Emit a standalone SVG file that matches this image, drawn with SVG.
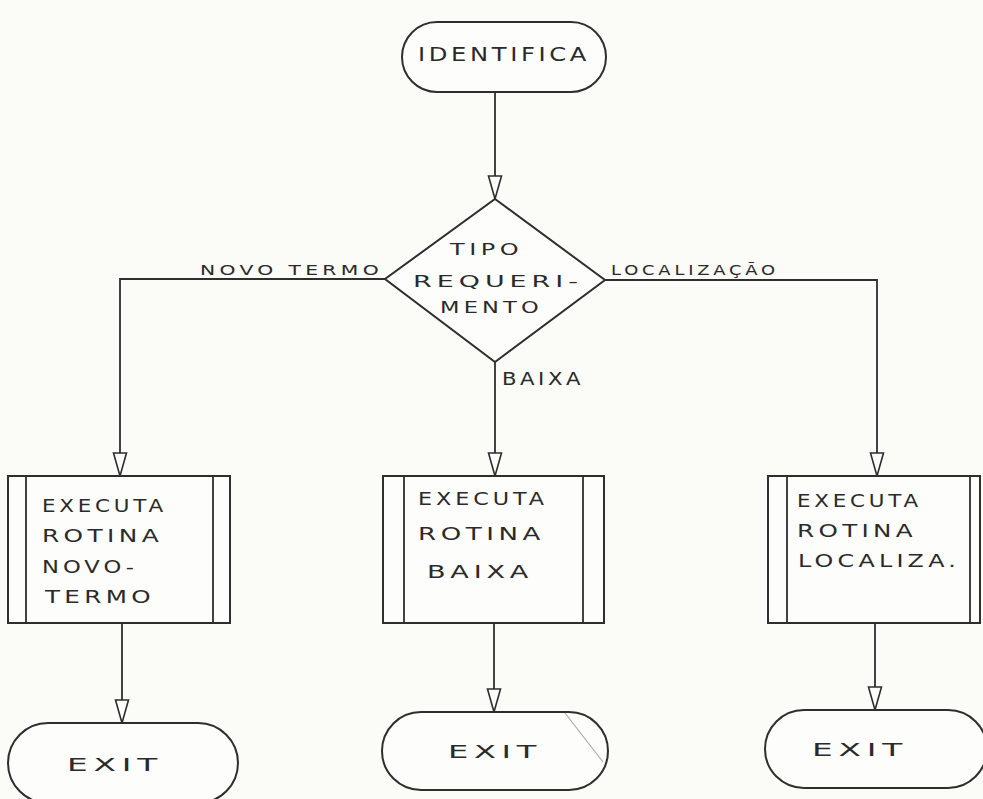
<svg xmlns="http://www.w3.org/2000/svg" width="983" height="799" viewBox="0 0 983 799">
<style>
.s{fill:#fdfdfb;stroke:#2e2e2e;stroke-width:2}
.l{fill:none;stroke:#2e2e2e;stroke-width:1.8}
.t{font-family:"DejaVu Sans","Liberation Sans",Arial,sans-serif;fill:#2a2a2a;letter-spacing:3px}
.big{font-size:20px}
.mid{font-size:17px}
.dia{font-size:16px}
.sm{font-size:14px}
.lab{font-size:18px}
</style>
<defs>
<marker id="arr" viewBox="-1 -9 26 18" markerWidth="26" markerHeight="18" refX="23" refY="0" orient="auto" markerUnits="userSpaceOnUse">
<path d="M0,-6.5 L23,0 L0,6.5 Z" fill="#fdfdfb" stroke="#2e2e2e" stroke-width="1.6"/>
</marker>
</defs>
<rect width="983" height="799" fill="#fbfbf8"/>
<g id="connectors">
<line class="l" x1="495" y1="92" x2="495" y2="199" marker-end="url(#arr)"/>
<polyline class="l" points="385,279 120,279 120,476" marker-end="url(#arr)"/>
<polyline class="l" points="605,280 877,280 877,476" marker-end="url(#arr)"/>
<line class="l" x1="495" y1="362" x2="495" y2="476" marker-end="url(#arr)"/>
<line class="l" x1="122" y1="623" x2="122" y2="723" marker-end="url(#arr)"/>
<line class="l" x1="494" y1="623" x2="494" y2="712" marker-end="url(#arr)"/>
<line class="l" x1="875" y1="623" x2="875" y2="710" marker-end="url(#arr)"/>
<text class="t sm" x="200" y="275" textLength="183" lengthAdjust="spacingAndGlyphs">NOVO TERMO</text>
<text class="t sm" x="611" y="275" textLength="168" lengthAdjust="spacingAndGlyphs">LOCALIZAÇÃO</text>
<text class="t lab" x="502" y="385" textLength="82" lengthAdjust="spacingAndGlyphs">BAIXA</text>
</g>
<g id="identifica">
<rect class="s" x="402" y="22" width="204" height="70" rx="35"/>
<text class="t big" x="418" y="61" textLength="172" lengthAdjust="spacingAndGlyphs">IDENTIFICA</text>
</g>
<g id="tipo-requerimento">
<polygon class="s" points="495,199 605,280 495,362 385,279"/>
<text class="t dia" x="450" y="255" textLength="73" lengthAdjust="spacingAndGlyphs">TIPO</text>
<text class="t dia" x="413" y="287" textLength="170" lengthAdjust="spacingAndGlyphs">REQUERI-</text>
<text class="t dia" x="440" y="313" textLength="103" lengthAdjust="spacingAndGlyphs">MENTO</text>
</g>
<g id="rotina-novo-termo">
<rect class="s" x="8" y="476" width="222" height="147"/>
<line class="l" x1="26" y1="476" x2="26" y2="623"/>
<line class="l" x1="213" y1="476" x2="213" y2="623"/>
<text class="t mid" x="42" y="512" textLength="125" lengthAdjust="spacingAndGlyphs">EXECUTA</text>
<text class="t mid" x="42" y="542" textLength="121" lengthAdjust="spacingAndGlyphs">ROTINA</text>
<text class="t mid" x="42" y="573" textLength="96" lengthAdjust="spacingAndGlyphs">NOVO-</text>
<text class="t mid" x="45" y="603" textLength="110" lengthAdjust="spacingAndGlyphs">TERMO</text>
</g>
<g id="rotina-baixa">
<rect class="s" x="383" y="476" width="221" height="147"/>
<line class="l" x1="404" y1="476" x2="404" y2="623"/>
<line class="l" x1="583" y1="476" x2="583" y2="623"/>
<text class="t mid" x="418" y="505" textLength="130" lengthAdjust="spacingAndGlyphs">EXECUTA</text>
<text class="t mid" x="418" y="540" textLength="127" lengthAdjust="spacingAndGlyphs">ROTINA</text>
<text class="t mid" x="427" y="578" textLength="106" lengthAdjust="spacingAndGlyphs">BAIXA</text>
</g>
<g id="rotina-localiza">
<rect class="s" x="768" y="476" width="212" height="147"/>
<line class="l" x1="787" y1="476" x2="787" y2="623"/>
<line class="l" x1="970" y1="476" x2="970" y2="623"/>
<text class="t mid" x="797" y="507" textLength="125" lengthAdjust="spacingAndGlyphs">EXECUTA</text>
<text class="t mid" x="797" y="537" textLength="120" lengthAdjust="spacingAndGlyphs">ROTINA</text>
<text class="t mid" x="798" y="567" textLength="162" lengthAdjust="spacingAndGlyphs">LOCALIZA.</text>
</g>
<g id="exit-1">
<rect class="s" x="8" y="723" width="230" height="80" rx="40"/>
<text class="t mid" x="67" y="771" textLength="96" lengthAdjust="spacingAndGlyphs">EXIT</text>
</g>
<g id="exit-2">
<rect class="s" x="382" y="712" width="226" height="78" rx="39"/>
<line x1="565" y1="713" x2="603" y2="762" stroke="#aaa" stroke-width="1.2"/>
<text class="t mid" x="448" y="758" textLength="94" lengthAdjust="spacingAndGlyphs">EXIT</text>
</g>
<g id="exit-3">
<rect class="s" x="765" y="710" width="222" height="78" rx="39"/>
<text class="t mid" x="812" y="756" textLength="96" lengthAdjust="spacingAndGlyphs">EXIT</text>
</g>
</svg>
